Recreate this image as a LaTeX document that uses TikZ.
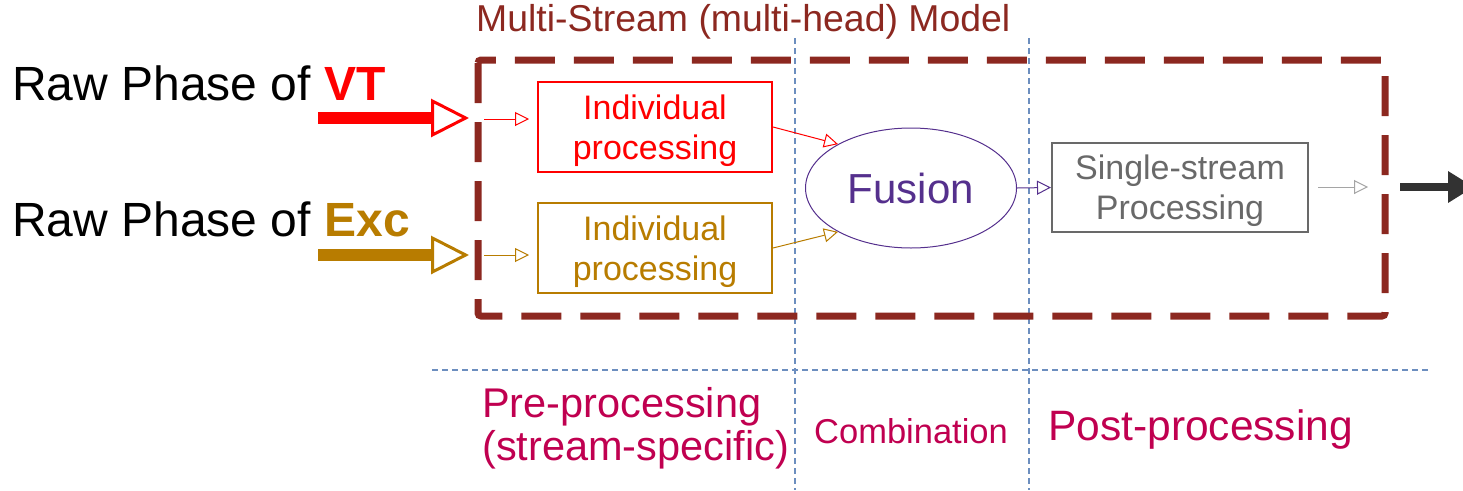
\documentclass[tikz,border=0pt]{standalone}
\usepackage{fontspec}
\setmainfont{Liberation Sans}
\usetikzlibrary{arrows.meta,shapes.geometric}
\definecolor{vtred}{RGB}{255,0,0}
\definecolor{excgold}{RGB}{184,124,0}
\definecolor{framered}{RGB}{140,40,32}
\definecolor{fuspurple}{RGB}{85,48,141}
\definecolor{stagecol}{RGB}{192,0,80}
\definecolor{sepblue}{RGB}{108,142,191}
\definecolor{boxgray}{RGB}{105,105,105}
\definecolor{arrgray}{RGB}{165,165,165}
\definecolor{outblack}{RGB}{50,50,50}
\tikzset{
  fs/.style 2 args={font=\fontsize{#1}{#2}\selectfont},
  procbox/.style={draw=#1, text=#1, line width=2pt, minimum width=234pt, minimum height=90pt, inner sep=0pt, align=center, text depth=0pt, fs={34}{39.5}},
  bigarrow/.style={draw=#1, line width=12pt, -{Triangle[open, fill=white, line width=3pt, length=38pt, width=38pt]}},
  smallarrow/.style={draw=#1, line width=1pt, -{Triangle[open, fill=white, line width=1pt, length=14pt, width=14pt]}},
  sepline/.style={draw=sepblue, line width=1.1pt, dash pattern=on 6pt off 4pt},
  stagetext/.style={text=stagecol, align=left, inner sep=0pt}
}
\begin{document}
\begin{tikzpicture}[x=1pt,y=-1pt]
\useasboundingbox (0,0) rectangle (1463,490);
% separators
\draw[sepline] (795,38) coordinate (s1t) -- (795,490) coordinate (s1b);
\draw[sepline] (1029,38) coordinate (s2t) -- (1029,490) coordinate (s2b);
\draw[sepline] (432,370) coordinate (hl) -- (1430,370) coordinate (hr);
% frame
\draw[framered, line width=7pt, dash pattern=on 40pt off 19pt, rounded corners=3pt] (478,60) rectangle (1385,316);
\node[anchor=west, text=framered, fs={37.4}{43}, inner sep=0pt] (title) at (476,22) {Multi-Stream (multi-head) Model};
% inputs
\node[anchor=base west, fs={48}{55}, inner sep=0pt] (vtlab) at (12,100) {Raw Phase of \textcolor{vtred}{\textbf{VT}}};
\node[anchor=base west, fs={48}{55}, inner sep=0pt] (exclab) at (12,236) {Raw Phase of \textcolor{excgold}{\textbf{Exc}}};
\coordinate (vta) at (318,118);
\coordinate (vtb) at (469,118);
\coordinate (exa) at (318,255);
\coordinate (exb) at (469,255);
\draw[bigarrow=vtred] (vta) -- (vtb);
\draw[bigarrow=excgold] (exa) -- (exb);
% boxes
\node[procbox=vtred] (vtbox) at (655,127) {Individual\\processing};
\node[procbox=excgold] (exbox) at (655,248) {Individual\\processing};
\coordinate (vts) at (484,119);
\coordinate (exs) at (484,255);
\draw[smallarrow=vtred, shorten >=8pt] (vts) -- (vtbox.west |- vts);
\draw[smallarrow=excgold, shorten >=8pt] (exs) -- (exbox.west |- exs);
% fusion
\node[ellipse, draw=fuspurple, line width=1pt, minimum width=211pt, minimum height=120pt, inner sep=0pt, text=fuspurple, fs={42}{49}] (fus) at (911,188) {Fusion};
\draw[smallarrow=vtred] (vtbox.east) -- (fus.149);
\draw[smallarrow=excgold] (exbox.east) -- (fus.211);
% single stream
\node[draw=boxgray, text=boxgray, line width=2pt, minimum width=256pt, minimum height=89pt, inner sep=0pt, align=center, text depth=0pt, fs={34}{40}] (ss) at (1180,187.5) {Single-stream\\Processing};
\draw[smallarrow=fuspurple] (fus.east) -- (ss.west);
\coordinate (ssout) at (1368,187);
\draw[smallarrow=arrgray, shorten <=9pt] (ss.east |- ssout) -- (ssout);
\coordinate (outa) at (1400,187);
\coordinate (outb) at (1474,187);
\draw[draw=outblack, line width=8pt, -{Triangle[length=26pt, width=30pt]}, fill=outblack] (outa) -- (outb);
% stage labels
\node[stagetext, fs={41.5}{43}, anchor=north west, align=left] (pre) at (482,387) {Pre-processing\\(stream-specific)};
\node[stagetext, fs={34.5}{40}, anchor=west] (comb) at (814,431) {Combination};
\node[stagetext, fs={42.5}{48}, anchor=west] (post) at (1048,430) {Post-processing};
\end{tikzpicture}
\end{document}
